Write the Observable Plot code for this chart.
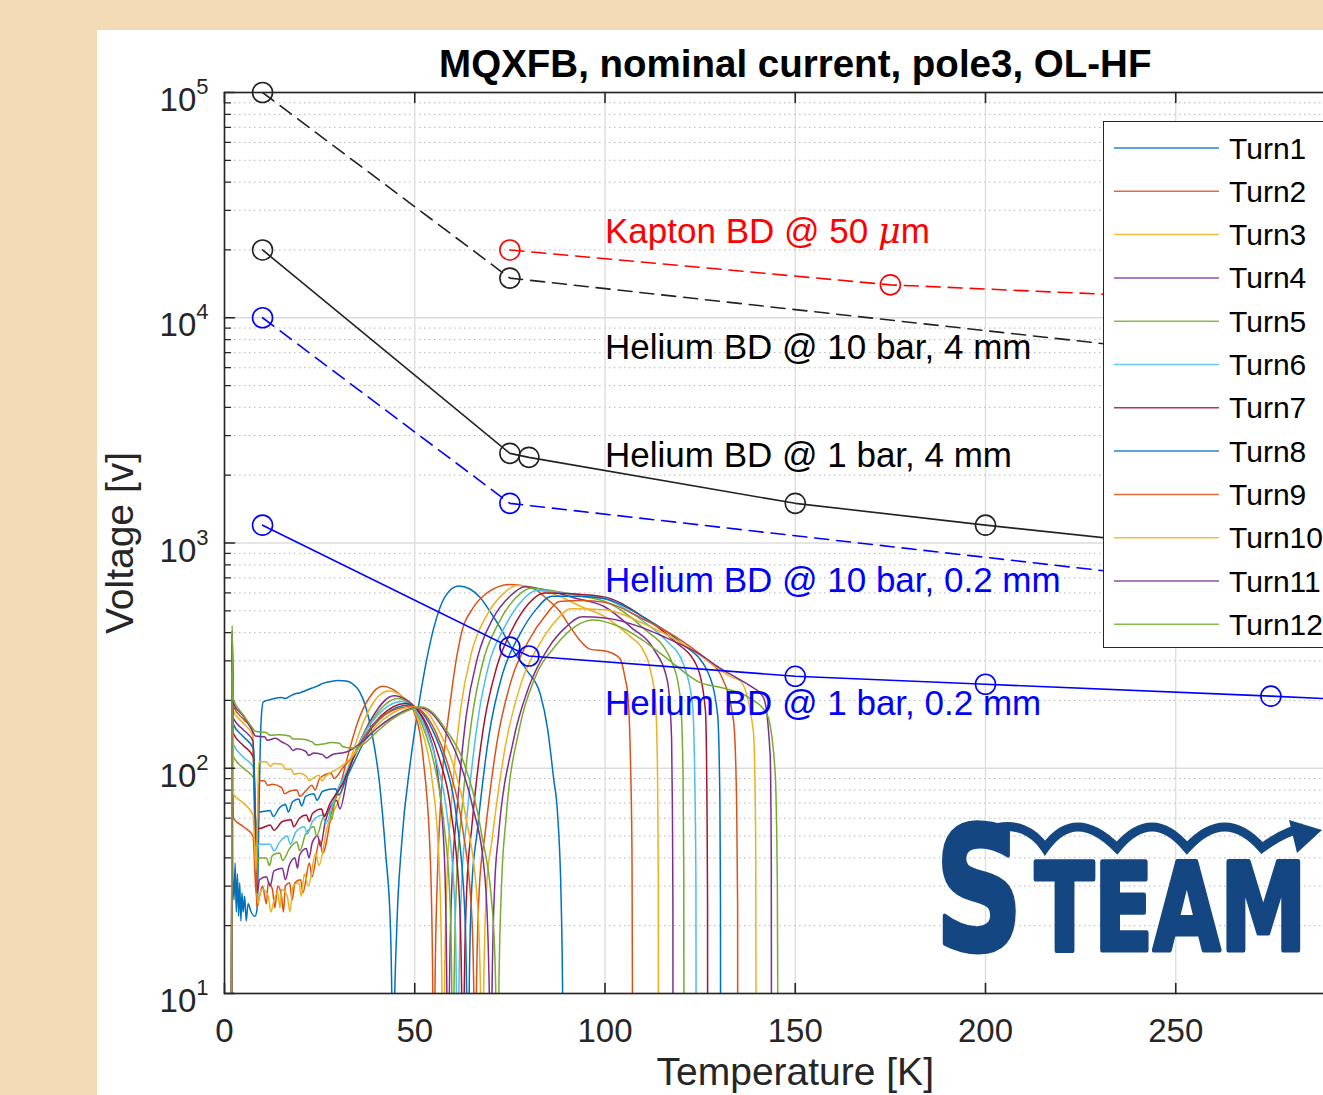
<!DOCTYPE html>
<html><head><meta charset="utf-8">
<script src="https://cdn.jsdelivr.net/npm/d3@7"></script>
<script src="https://cdn.jsdelivr.net/npm/@observablehq/plot@0.6"></script>
<style>
html,body{margin:0;padding:0;}
body{width:1323px;height:1095px;overflow:hidden;background:#F2DBB5;position:relative;font-family:"Liberation Sans",Arial,Helvetica,sans-serif;}
#panel{position:absolute;left:97px;top:30px;width:1300px;height:1100px;background:#fff;}
#chart{position:absolute;left:0;top:0;}
#legend{position:absolute;left:1006px;top:91px;width:300px;height:527px;border:1.5px solid #262626;background:#fff;box-sizing:border-box;}
#logo{position:absolute;left:830px;top:745px;overflow:visible;}
</style></head>
<body>
<div id="panel"><div id="chart"></div><div id="legend"></div>
<svg id="logo" width="396" height="250" viewBox="0 0 396 250">
  <text transform="translate(8,175) scale(0.71,1)" fill="#144682" stroke="#144682" stroke-width="5" stroke-linejoin="round" font-family="DejaVu Sans, Liberation Sans, Arial, sans-serif" font-weight="bold"><tspan font-size="172">S</tspan><tspan font-size="122" dx="17">TEAM</tspan></text>
  <path d="M60,56 C88,44 108,58 118,73 Q148,31 190,73 Q225,31 260,73 Q298,31 335,73 Q356,57 376,53" fill="none" stroke="#144682" stroke-width="9"/>
  <path d="M395,55 L362,45 L370,78 Z" fill="#144682"/>
</svg>
</div>
<script>
// ---------- data ----------
const turnNames = ["Turn1","Turn2","Turn3","Turn4","Turn5","Turn6","Turn7","Turn8","Turn9","Turn10","Turn11","Turn12"];
const turnColors = ["#0072BD","#D95319","#EDB120","#7E2F8E","#77AC30","#4DBEEE","#A2142F","#0072BD","#D95319","#EDB120","#7E2F8E","#77AC30"];

const turn1 = [[1.8,1],[2.0,380],[2.15,36],[2.5,26],[2.8,38],[3.1,23],[3.4,34],[3.7,22],[4.0,31],[4.3,21],[4.6,28],[4.9,23],[5.3,27],[5.7,21],[6.2,25],[7,23],[8,22],[8.6,24],[9.1,70],[9.6,160],[10.2,197],[12.6,203],[15,206],[16,204],[17,208],[18.5,214],[19.7,216],[21.5,222],[23,227],[24.5,232],[25.8,238],[28,243],[30,245],[32,244],[33.5,238],[35.5,219],[37,190],[38.5,150],[40.7,87],[42.4,41],[43.6,20],[44.1,6],[44.3,1],[44.6,7],[45.3,20],[46.5,45],[48.9,108],[51.5,213],[55,420],[58,580],[61.5,645],[64.5,625],[67.3,570],[70,490],[72.5,420],[76,330],[79.6,270],[83,213],[84.9,150],[86.5,90],[87.5,64],[88.5,25],[88.9,8],[89.1,1]];
const turn2 = [[1.8,1],[2.0,400],[2.3,189],[5,165],[7.3,148],[7.9,60],[8.5,24],[9.2,27],[10,30],[11,25],[11.5,31],[12.6,29],[13.2,24],[14,30],[15,27],[15.5,23],[16,30],[17.1,31],[17.8,26],[18.5,31],[20,32],[20.6,28],[22.3,38],[23,33],[25,48],[25.8,42],[28.4,66],[30.5,85],[32.8,120],[35,160],[38,205],[41.5,231],[44,225],[47,205],[49.7,180],[52.3,107],[54.1,39],[54.7,12],[55.0,1],[55.3,10],[56,35],[56.8,70],[59.4,200],[62,380],[65.5,520],[69,600],[75,655],[81,630],[85,560],[88,500],[91,420],[93.6,366],[96,338],[100.6,330],[104,306],[105.3,250],[106,213],[106.7,107],[107.1,40],[107.4,1]];
const turn3 = [[1.8,1],[2.0,380],[2.3,180],[5,158],[7.4,140],[8.0,60],[8.7,25],[9.4,28],[10,29],[11.5,27],[12.2,23],[13,26],[14,28],[14.6,24],[15,29],[16.5,27],[17.2,23],[18,30],[19.5,31],[20.2,27],[21,34],[22,30],[24,42],[24.8,37],[27,55],[30,72],[32.8,105],[35.5,145],[38.5,188],[43,220],[46.5,210],[49.7,183],[52,145],[54.5,90],[56.4,38],[57.1,12],[57.5,1],[57.8,10],[58.5,33],[59.5,65],[62,180],[65,330],[69,480],[73,590],[77,650],[82,630],[88,580],[94,520],[100,470],[104,420],[107,380],[109.3,350],[112,270],[113.3,192],[113.8,97],[114.0,35],[114.1,1]];
const turn4 = [[1.8,1],[2.0,360],[2.3,167],[5,148],[7.5,132],[8.1,60],[8.6,28],[9.2,32],[11,33],[12,30],[13,35],[15.2,36],[16,32],[17,37],[18.5,40],[19.2,36],[19.7,41],[21.5,44],[22.2,40],[23.1,47],[24.5,50],[25.2,45],[26.5,58],[29.5,72],[30.3,66],[32.5,95],[35.5,130],[39,170],[44.5,210],[48,200],[50.5,183],[53.5,145],[56,95],[57.8,40],[58.4,12],[58.8,1],[59.1,10],[59.8,32],[61,62],[63.5,170],[66.5,310],[70.5,460],[75,580],[79,640],[85,615],[92,570],[100,520],[107,420],[112.7,340],[116.4,244],[117.5,136],[117.7,69],[117.85,25],[117.9,1]];
const turn5 = [[1.8,1],[2.0,280],[2.3,113],[5,100],[7.7,90],[8.4,32],[8.9,40],[9.2,40],[11,40],[11.8,37],[12.6,41],[14.5,42],[15.3,39],[17.1,44],[19,47],[19.8,43],[21.3,51],[23.5,55],[24.2,50],[25.8,60],[27.5,64],[28.2,59],[29,72],[32.5,98],[35.5,130],[39.5,170],[45.5,204],[49.5,186],[52,155],[54.8,110],[57.5,60],[59.3,25],[59.8,8],[60.0,1],[60.3,10],[61,32],[62.2,60],[65,165],[68,300],[72,440],[76.5,570],[80.5,630],[87,610],[94,580],[100,550],[110,420],[117.2,306],[119.8,205],[120.5,97],[120.7,35],[120.8,1]];
const turn6 = [[1.8,1],[2.0,300],[2.3,128],[5,112],[7.7,100],[8.4,38],[8.9,46],[9.2,46],[12,46],[13,43],[14.5,47],[16.5,50],[17.3,46],[18.7,52],[21,55],[21.8,51],[23.1,58],[25.8,62],[26.6,57],[29,75],[32.5,100],[36,135],[40,170],[46.5,198],[49.7,185],[52.5,155],[55.5,110],[58.5,62],[60.5,25],[61.0,8],[61.3,1],[61.6,10],[62.3,30],[63.6,58],[66.5,160],[69.5,290],[73.5,420],[78,550],[82,615],[89,600],[95,585],[100,565],[110,450],[116,370],[120.6,290],[123,192],[123.6,88],[123.9,30],[124.0,1]];
const turn7 = [[1.8,1],[2.0,320],[2.3,143],[5,126],[7.6,112],[8.3,45],[8.8,54],[9.2,54],[12,56],[13,53],[15.2,58],[17.5,59],[18.2,55],[19.7,60],[21.5,62],[22.3,58],[23.1,63],[25.5,66],[26.2,61],[27.6,69],[31,85],[34,112],[37,140],[41,170],[47.5,194],[50.5,183],[53.5,152],[56.5,110],[59.5,65],[61.8,25],[62.4,8],[62.7,1],[63.0,10],[63.7,30],[65,55],[68,150],[71.5,280],[75.5,410],[80,540],[84,600],[91,595],[100,575],[110,470],[118,370],[124.3,280],[126.4,180],[126.8,70],[126.95,25],[127.0,1]];
const turn8 = [[1.8,1],[2.0,340],[2.3,157],[5,138],[7.6,122],[8.3,50],[8.8,64],[9.2,64],[12,65],[12.8,61],[14.5,67],[16,69],[16.8,64],[17.9,71],[19.5,73],[20.3,68],[21.3,75],[23.5,77],[24.3,72],[25.8,79],[29.2,81],[30,76],[32,90],[35,115],[38,145],[42,172],[48.5,191],[51.5,180],[54.5,150],[58,105],[61,60],[63.2,22],[63.7,8],[64.0,1],[64.3,10],[65,30],[66.4,52],[69.5,140],[73,260],[77.5,390],[82,510],[86,580],[93,580],[100,565],[110,470],[120,360],[126.9,270],[129.6,173],[130.2,70],[130.35,25],[130.4,1]];
const turn9 = [[1.8,1],[2.0,260],[2.3,60],[5,55],[7.5,50],[8.3,28],[9.0,88],[10.5,88],[11.3,84],[12.6,85],[15,82],[15.8,77],[17.1,79],[19,80],[19.8,75],[21.3,79],[23,84],[23.8,80],[25,90],[28,95],[28.8,90],[31,100],[34,115],[37,140],[40.5,165],[44,180],[49.5,188],[52.5,175],[55.5,145],[59,100],[62.5,55],[65,22],[65.6,8],[65.9,1],[66.2,10],[67,30],[68.4,50],[71.6,130],[75.5,250],[80,370],[84.5,480],[88,550],[94,555],[100,545],[110,460],[120,370],[127,300],[130.4,260],[133.8,161],[134.6,70],[134.85,25],[134.9,1]];
const turn10 = [[1.8,1],[2.0,270],[2.3,77],[5,70],[7.5,62],[8.3,35],[9.0,107],[11,107],[12,102],[13,105],[15.2,104],[16,99],[17.5,99],[18.3,94],[19.7,95],[21.5,92],[22.3,88],[23.1,90],[24.8,93],[25.6,88],[26.5,92],[30,100],[33,110],[36.5,130],[40,155],[44,175],[47.5,185],[50.5,187],[53.5,175],[56.5,145],[60,105],[63.5,60],[66.5,25],[67.4,8],[67.8,1],[68.1,10],[68.9,30],[70.3,48],[73.8,125],[78,240],[83,360],[87,450],[91,510],[100,505],[110,440],[120,360],[127,300],[133,255],[135.6,244],[139,146],[139.6,50],[139.8,1]];
const turn11 = [[1.8,1],[2.0,410],[2.3,195],[5,170],[7.5,145],[8.1,139],[10.5,138],[11.3,133],[13.4,136],[15,131],[17.1,125],[18,120],[19,122],[21.3,119],[22.2,114],[23.5,117],[25.8,115],[26.8,111],[28.4,115],[32,118],[36,130],[40,150],[44,168],[48,182],[51,186],[54,178],[57,155],[61,115],[65,70],[68.5,32],[69.6,10],[70.0,1],[70.3,10],[71,30],[72,50],[75.8,130],[80,230],[85,340],[89.5,420],[94,470],[100,465],[110,420],[116,380],[125,320],[130,280],[135,250],[138.2,232],[141.7,205],[143.4,115],[143.7,40],[143.8,1]];
const turn12 = [[1.8,1],[2.0,430],[2.3,203],[5,172],[7.5,150],[8.1,146],[11,144],[12,140],[14,141],[17.1,139],[18,135],[20,135],[23,131],[24,127],[25.8,128],[28,130],[30.2,129],[31,125],[33.6,123],[36.5,128],[40,145],[44,165],[48,180],[52,187],[55,175],[58,150],[62.8,107],[67.3,54],[70.7,20],[71.4,8],[71.8,1],[72.1,10],[72.8,30],[74,60],[77.5,150],[81.5,250],[87,350],[92.5,430],[97,455],[103,430],[110,370],[116,310],[125,240],[131,227],[138,205],[142.6,173],[144.7,97],[145.3,30],[145.6,1]];
const turns = [turn1,turn2,turn3,turn4,turn5,turn6,turn7,turn8,turn9,turn10,turn11,turn12];

// breakdown reference curves
const kaptonT = [75, 175, 275, 300];
const kaptonV = [20000, 14000, 11800, 11400];
const he10bar4mmT = [10, 75, 275, 300];
const he10bar4mmV = [100000, 15000, 6350, 5900];
const he1bar4mmT = [10, 75, 80, 150, 200, 275, 300];
const he1bar4mmV = [20000, 2500, 2400, 1500, 1200, 880, 800];
const he10bar02T = [10, 75, 275, 300];
const he10bar02V = [10000, 1500, 620, 560];
const he1bar02T = [10, 75, 80, 150, 200, 275, 300];
const he1bar02V = [1200, 345, 315, 256, 236, 209, 200];

const annoText = ["Kapton BD @ 50 μm","Helium BD @ 10 bar, 4 mm","Helium BD @ 1 bar, 4 mm","Helium BD @ 10 bar, 0.2 mm","Helium BD @ 1 bar, 0.2 mm"];
const annoX = [100, 100, 100, 100, 100];
const annoY = [24000, 7350, 2440, 677, 194];
const annoColor = ["#FF0000","#000000","#000000","#0000FF","#0000FF"];

const xTicks = [0, 50, 100, 150, 200, 250, 300];
const xTickLabels = [0, 50, 100, 150, 200, 250];
const yMajor = [10, 100, 1000, 10000, 100000];
const yMinor = [20,30,40,50,60,70,80,90,200,300,400,500,600,700,800,900,2000,3000,4000,5000,6000,7000,8000,9000,20000,30000,40000,50000,60000,70000,80000,90000];

const titleText = "MQXFB, nominal current, pole3, OL-HF";
const xLabel = "Temperature [K]";
const yLabel = "Voltage [v]";

// ---------- chart ----------
const pairs = (T, V) => T.map((t, i) => ({T: t, V: V[i]}));
const tickShape = {draw(c, l) { c.moveTo(0, 0); c.lineTo(0, -l); }};
const axisCol = "#262626";
const FONT = "Liberation Sans, Arial, Helvetica, sans-serif";

function refLine(T, V, color, dash) {
  const d = pairs(T, V);
  return [
    Plot.line(d, {x: "T", y: "V", stroke: color, strokeWidth: 1.6, strokeDasharray: dash, clip: true}),
    Plot.dot(d, {x: "T", y: "V", r: 10, stroke: color, strokeWidth: 1.6, fill: "none"})
  ];
}

const chart = Plot.plot({
  width: 1300, height: 1065,
  marginLeft: 127, marginRight: 31.5, marginTop: 62, marginBottom: 102,
  style: {fontFamily: FONT, background: "white", overflow: "visible", color: "#262626"},
  x: {domain: [0, 300]},
  y: {type: "log", domain: [10, 100000]},
  marks: [
    Plot.gridY(yMinor, {stroke: "#b4b4b4", strokeOpacity: 1, strokeWidth: 1, strokeDasharray: "1.5,3.5"}),
    Plot.gridY(yMajor, {stroke: "#dcdcdc", strokeOpacity: 1, strokeWidth: 1.3}),
    Plot.gridX(xTicks, {stroke: "#dcdcdc", strokeOpacity: 1, strokeWidth: 1.3}),
    ...turns.map((t, i) => Plot.line(t, {x: d => d[0], y: d => d[1], stroke: turnColors[i], strokeWidth: 1.5, curve: "monotone-x", clip: true})),
    ...refLine(he10bar4mmT, he10bar4mmV, "#222222", "14,8"),
    ...refLine(kaptonT, kaptonV, "#FF0000", "14,8"),
    ...refLine(he1bar4mmT, he1bar4mmV, "#222222", null),
    ...refLine(he10bar02T, he10bar02V, "#0000FF", "14,8"),
    ...refLine(he1bar02T, he1bar02V, "#0000FF", null),
    Plot.text(annoText, {x: (d, i) => annoX[i], y: (d, i) => annoY[i], text: d => d, fill: (d, i) => annoColor[i], textAnchor: "start", lineAnchor: "middle", fontSize: 35}),
    Plot.frame({stroke: axisCol, strokeWidth: 1.6}),
    Plot.vector(xTicks, {x: d => d, frameAnchor: "bottom", length: 10, anchor: "start", shape: tickShape, stroke: axisCol, strokeWidth: 1.6}),
    Plot.vector(xTicks, {x: d => d, frameAnchor: "top", length: 10, rotate: 180, anchor: "start", shape: tickShape, stroke: axisCol, strokeWidth: 1.6}),
    Plot.vector(yMajor, {y: d => d, frameAnchor: "left", length: 10, rotate: 90, anchor: "start", shape: tickShape, stroke: axisCol, strokeWidth: 1.6}),
    Plot.vector(yMinor, {y: d => d, frameAnchor: "left", length: 6, rotate: 90, anchor: "start", shape: tickShape, stroke: axisCol, strokeWidth: 1.3}),
    Plot.axisX(xTickLabels, {anchor: "bottom", tickSize: 0, tickPadding: 25, fontSize: 33, label: null, tickFormat: d => String(d), fill: "#262626"}),
    Plot.axisY(yMajor, {anchor: "left", tickSize: 0, tickPadding: 16, fontSize: 33, label: null, dy: 8, tickFormat: d => String(Math.round(Math.log10(d))), fill: "#262626"}),
    Plot.text([titleText], {frameAnchor: "top", dy: -28, lineAnchor: "middle", text: d => d, fontSize: 38.5, fontWeight: "bold", fill: "#000"}),
    Plot.text([yLabel], {frameAnchor: "left", dx: -104, rotate: -90, textAnchor: "middle", lineAnchor: "middle", text: d => d, fontSize: 39, fill: "#262626"}),
    Plot.text([xLabel], {frameAnchor: "bottom", dy: 79, textAnchor: "middle", lineAnchor: "middle", text: d => d, fontSize: 39, fill: "#262626"})
  ]
});
document.getElementById("chart").appendChild(chart);

// y tick labels: 10 with superscript exponent
d3.select(chart).selectAll('g[aria-label="y-axis tick label"] text').each(function() {
  const e = this.textContent;
  const t = d3.select(this);
  t.text("");
  t.append("tspan").text("10");
  t.append("tspan").attr("dy", "-17").attr("font-size", "22").text(e);
});
// italic mu
d3.select(chart).selectAll("text").filter(function() { return this.textContent.includes("μ"); }).each(function() {
  const s = this.textContent;
  const k = s.indexOf("μ");
  const t = d3.select(this);
  t.text("");
  t.append("tspan").text(s.slice(0, k));
  t.append("tspan").attr("font-style", "italic").attr("font-family", "DejaVu Serif, serif").text("μ");
  t.append("tspan").text(s.slice(k + 1));
});

// legend
const lg = d3.select("#legend").append("svg").attr("width", 300).attr("height", 524);
turnNames.forEach((n, i) => {
  const y = 26 + i * 43.3;
  lg.append("line").attr("x1", 10).attr("x2", 115).attr("y1", y).attr("y2", y).attr("stroke", turnColors[i]).attr("stroke-width", 1.5).attr("stroke-opacity", 0.85);
  lg.append("text").attr("x", 125).attr("y", y).attr("dy", "0.35em").attr("font-size", 30).attr("font-family", FONT).attr("fill", "#000").text(n);
});
</script>
</body></html>
